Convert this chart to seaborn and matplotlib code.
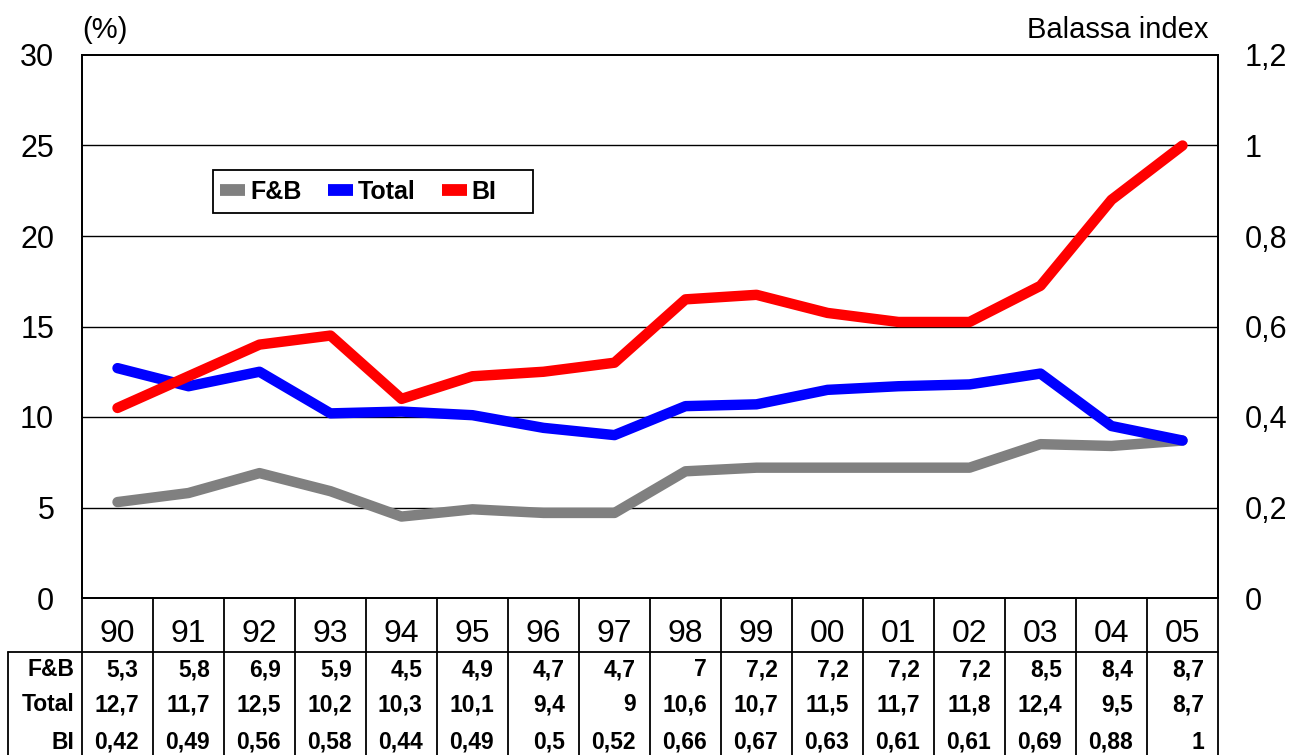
import matplotlib
matplotlib.use("Agg")
import matplotlib.pyplot as plt
from matplotlib.lines import Line2D
from matplotlib.patches import Rectangle
import seaborn as sns
import pandas as pd

years = ["90", "91", "92", "93", "94", "95", "96", "97", "98", "99", "00", "01", "02", "03", "04", "05"]
fb = [5.3, 5.8, 6.9, 5.9, 4.5, 4.9, 4.7, 4.7, 7, 7.2, 7.2, 7.2, 7.2, 8.5, 8.4, 8.7]
total = [12.7, 11.7, 12.5, 10.2, 10.3, 10.1, 9.4, 9, 10.6, 10.7, 11.5, 11.7, 11.8, 12.4, 9.5, 8.7]
bi = [0.42, 0.49, 0.56, 0.58, 0.44, 0.49, 0.5, 0.52, 0.66, 0.67, 0.63, 0.61, 0.61, 0.69, 0.88, 1]
left_ticks = [0, 5, 10, 15, 20, 25, 30]
right_ticks = [0, 0.2, 0.4, 0.6, 0.8, 1.0, 1.2]

sns.set_style("white")
plt.rcParams["font.family"] = ["Liberation Sans", "DejaVu Sans"]
plt.rcParams["text.color"] = "black"
plt.rcParams["xtick.color"] = "black"
plt.rcParams["ytick.color"] = "black"

def fmt(v):
    s = ("%g" % v)
    return s.replace(".", ",")

df = pd.DataFrame({"x": range(len(years)), "fb": fb, "total": total, "bi": bi})

fig = plt.figure(figsize=(12.94, 7.55), dpi=100)
ax = fig.add_axes([82/1294, 1-598/755, (1218-82)/1294, (598-55)/755])
ax2 = ax.twinx()

lw = 7.5
kw = dict(linewidth=lw, solid_capstyle="round", solid_joinstyle="round")
sns.lineplot(data=df, x="x", y="fb", ax=ax, color="#808080", zorder=3, **kw)
sns.lineplot(data=df, x="x", y="total", ax=ax, color="#0000FF", zorder=4, **kw)
sns.lineplot(data=df, x="x", y="bi", ax=ax2, color="#FF0000", zorder=5, **kw)

ax.set_xlim(-0.5, len(years) - 0.5)
ax.set_ylim(0, 30)
ax2.set_ylim(0, 1.2)
ax.set_yticks(left_ticks)
ax.set_yticklabels([fmt(v) for v in left_ticks], fontsize=22)
ax2.set_yticks(right_ticks)
ax2.set_yticklabels([fmt(v) for v in right_ticks], fontsize=22)
ax.tick_params(axis="y", length=0, pad=20)
ax2.tick_params(axis="y", length=0, pad=19)
ax.set_xticks(range(len(years)))
ax.set_xticklabels(years, fontsize=23)
ax.tick_params(axis="x", length=0, pad=15)
ax.set_xlabel("")
ax.set_ylabel("")
ax2.set_ylabel("")
for y in left_ticks[1:-1]:
    ax.axhline(y, color="black", linewidth=1.0, zorder=1)
for a in (ax, ax2):
    for s in a.spines.values():
        s.set_color("black")
        s.set_linewidth(1.3)

ax.text(0, 1.02, "(%)", transform=ax.transAxes, ha="left", va="bottom", fontsize=21)
ax.text(0.9915, 1.02, "Balassa index", transform=ax.transAxes, ha="right", va="bottom", fontsize=21)

# legend (box drawn separately to match the wide original frame)
ax2.add_patch(Rectangle((0.1153, 0.709), 0.2817, 0.079, transform=ax.transAxes, fill=True,
                        facecolor="white", edgecolor="black", linewidth=1.3, zorder=6, clip_on=False))
handles = [Line2D([], [], color=c, linewidth=8.5, solid_capstyle="butt") for c in ["#808080", "#0000FF", "#FF0000"]]
leg = ax2.legend(handles, ["F&B", "Total", "BI"], loc="center left", bbox_to_anchor=(0.1215, 0.7486),
                 ncol=3, frameon=False, handlelength=1.0, handletextpad=0.2,
                 columnspacing=1.05, borderpad=0, borderaxespad=0,
                 prop={"weight": "bold", "size": 18})
leg.set_zorder(7)

# data table below the chart
tr = ax.get_xaxis_transform()
n = len(years)
y_hdr = -0.0994
y_bot = -0.30
line_kw = dict(color="black", linewidth=1.3, clip_on=False, transform=tr)
x_left = -0.5 + (8 - 82) / 71
ax.plot([x_left, n - 0.5], [y_hdr, y_hdr], **line_kw)
ax.plot([x_left, x_left], [y_hdr, y_bot], **line_kw)
for k in range(n + 1):
    ax.plot([k - 0.5, k - 0.5], [0, y_bot], **line_kw)

rows = [("F&B", fb, -0.1325), ("Total", total, -0.1970), ("BI", bi, -0.2655)]
for label, vals, yy in rows:
    ax.text(-0.61, yy, label, transform=tr, ha="right", va="center", fontsize=16.5, fontweight="bold")
    for k, v in enumerate(vals):
        ax.text(k + 0.5 - 0.2, yy, fmt(v), transform=tr, ha="right", va="center",
                fontsize=16.5, fontweight="bold")

fig.savefig("out.png", dpi=100)
